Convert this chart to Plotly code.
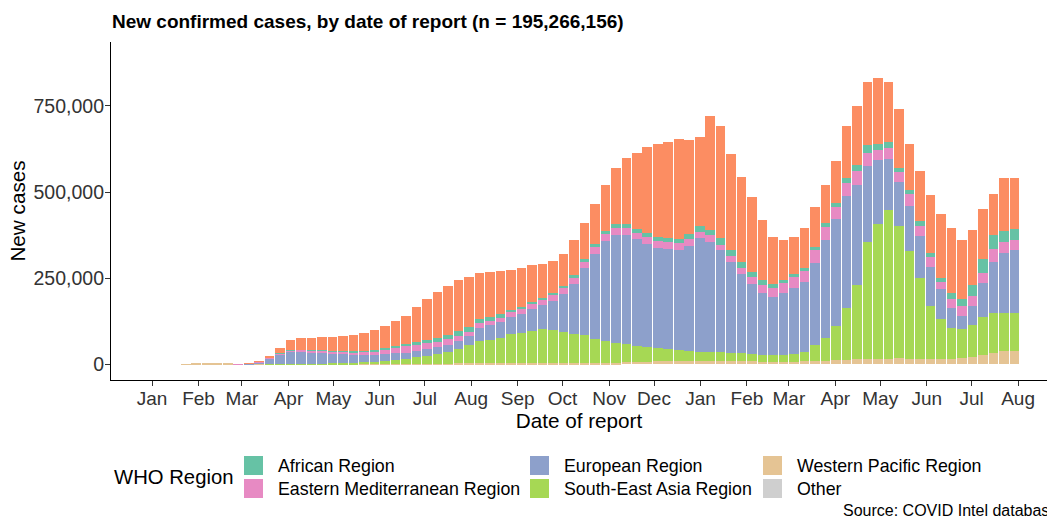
import pandas as pd
import plotly.graph_objects as go

# Weekly periods (Monday starts); values are mean daily new cases per week, in thousands
week_start = pd.date_range("2020-01-20", periods=80, freq="7D")

western_pacific = [0.8, 3.0, 3.2, 4.5, 1.5, 0.6, 0.4, 0.3, 0.5, 0.8,
                   1.0, 1.0, 0.9, 0.7, 0.5, 0.5, 0.5, 0.6, 0.7, 0.8,
                   0.9, 1.2, 1.5, 1.8, 2.2, 2.6, 3.2, 3.6, 3.8, 4.0,
                   4.0, 3.8, 3.6, 3.5, 3.5, 3.5, 3.7, 4.0, 4.2, 4.5,
                   5.0, 5.5, 6.5, 7.5, 8.5, 9.0, 9.5, 10.0, 10.5, 10.0,
                   11.0, 11.5, 11.0, 10.0, 9.0, 8.0, 7.5, 8.0, 8.5, 9.5,
                   10.5, 11.5, 12.5, 13.5, 15.0, 16.0, 16.5, 17.0, 17.5, 17.0,
                   16.0, 15.0, 15.0, 16.0, 18.0, 22.0, 27.0, 33.0, 38.0, 40.0]

south_east_asia = [0, 0, 0, 0, 0, 0, 0, 0, 0.1, 0.3,
                   0.6, 1.0, 1.5, 2.0, 2.5, 3.5, 4.5, 6.0, 7.5, 9.5,
                   12, 15, 19, 23, 28, 34, 42, 52, 65, 68,
                   74, 84, 88, 95, 100, 96, 90, 85, 80, 70,
                   62, 56, 52, 47, 42, 38, 35, 31, 28, 26,
                   25, 24, 23, 22, 22, 20, 19, 19, 22, 26,
                   45, 65, 100, 150, 215, 340, 390, 430, 383, 313,
                   234, 155, 118, 89, 85, 93, 110, 115, 110, 110]

european = [0, 0, 0, 0, 0, 0.3, 1.5, 6, 17, 28,
            36, 36, 33, 31, 28, 25, 22, 20, 18, 19,
            19, 18, 19, 19.5, 20, 21, 23, 26, 38, 42,
            45, 50, 56, 63, 68, 85, 110, 145, 195, 245,
            290, 315, 318, 308, 300, 292, 290, 290, 305, 330,
            320, 296, 262, 230, 203, 180, 170, 180, 192, 205,
            240, 285, 308, 325, 291, 220, 185, 150, 128, 130,
            122, 112, 85, 60, 38, 55, 98, 150, 175, 182]

eastern_mediterranean = [0, 0, 0, 0, 0, 0.2, 0.8, 1.2, 1.5, 3,
                         3.5, 4, 5, 6, 6.5, 8, 9, 10, 12, 14,
                         16, 18, 18, 18, 16, 15, 15, 14, 14, 13,
                         13, 13, 13, 14, 15, 16, 17, 18, 19, 20,
                         21, 20, 20, 20, 19, 19, 20, 20, 19, 19,
                         18, 16, 18, 19, 20, 22, 25, 28, 30, 30,
                         35, 38, 35, 38, 40, 38, 30, 32, 30, 35,
                         30, 30, 22, 25, 28, 28, 30, 38, 32, 30]

african = [0, 0, 0, 0, 0, 0, 0, 0, 0.1, 0.2,
           0.3, 0.5, 0.8, 1.0, 1.2, 1.5, 2.0, 2.5, 3.0, 4.0,
           5, 6, 8, 9, 11, 13, 14, 13, 11, 10,
           9, 8, 7, 7, 7, 7, 7, 7, 8, 9,
           9, 10, 11, 11, 11, 12, 13, 14, 15, 16,
           17, 18, 18, 16, 15, 14, 12, 11, 10, 9,
           9, 10, 12, 15, 18, 22, 18, 15, 12, 12,
           14, 12, 12, 18, 22, 32, 40, 38, 32, 30]

americas = [0, 0, 0, 0, 0, 0, 0.1, 0.5, 3, 15,
            30, 33, 36, 39, 41, 44, 48, 53, 59, 65,
            72, 82, 100, 118, 133, 142, 148, 146, 133, 131,
            127, 116, 112, 105, 98, 92, 92, 101, 104, 116,
            133, 163, 192, 221, 250, 270, 277, 290, 272, 259,
            329, 325, 278, 248, 216, 176, 137, 114, 108, 116,
            116, 111, 123, 149, 171, 184, 190, 176, 170, 133,
            144, 166, 183, 187, 169, 160, 145, 121, 153, 148]

other = [0, 0, 0, 0.1, 0.4, 0.1, 0.05, 0, 0, 0] + [0] * 70

month_ticks = pd.date_range("2020-01-01", "2021-08-01", freq="MS")
month_labels = [d.strftime("%b") for d in month_ticks]
y_ticks = [0, 250000, 500000, 750000]
y_labels = [f"{v:,}" for v in y_ticks]

# bottom-to-top stacking order
series = [
    ("Other", other, "#CFCFCF"),
    ("Western Pacific Region", western_pacific, "#E5C494"),
    ("South-East Asia Region", south_east_asia, "#A6D854"),
    ("European Region", european, "#8DA0CB"),
    ("Eastern Mediterranean Region", eastern_mediterranean, "#E78AC3"),
    ("African Region", african, "#66C2A5"),
    ("Region of the Americas", americas, "#FC8D62"),
]
colors = {n: c for n, _, c in series}

W, H = 1047, 523
L, R, T = 111, 0, 42
B = H - 380
PW, PH = W - L - R, H - T - B


def px(x):
    return (x - L) / PW


def py(y):
    return (H - B - y) / PH


FONT = "Liberation Sans, Arial, Helvetica, sans-serif"

fig = go.Figure()
centers = week_start + pd.Timedelta(hours=84)
bar_w = 6.4 * 24 * 3600 * 1000
for name, vals, color in series:
    fig.add_trace(go.Bar(
        x=centers, y=[v * 1000 for v in vals], width=bar_w, name=name,
        marker=dict(color=color, line=dict(width=0)), showlegend=False))

# legend (drawn manually to mimic ggplot's 3-column key layout)
legend_cols = [
    (244, 276, ["African Region", "Eastern Mediterranean Region"]),
    (530, 562, ["European Region", "South-East Asia Region"]),
    (763, 795, ["Western Pacific Region", "Other"]),
]
row_y = [465.5, 488.5]
shapes = []
annotations = []
for kx, tx, names in legend_cols:
    for r, nm in enumerate(names):
        cy = row_y[r]
        shapes.append(dict(type="rect", xref="paper", yref="paper",
                           x0=px(kx), x1=px(kx + 19), y0=py(cy + 9.5), y1=py(cy - 9.5),
                           fillcolor=colors[nm], line=dict(width=0), layer="above"))
        annotations.append(dict(text=nm, xref="paper", yref="paper", x=px(tx), y=py(cy),
                                xanchor="left", yanchor="middle", showarrow=False,
                                font=dict(family=FONT, size=17.8, color="black")))
annotations.append(dict(text="WHO Region", xref="paper", yref="paper", x=px(112), y=py(477),
                        xanchor="left", yanchor="middle", showarrow=False,
                        font=dict(family=FONT, size=20.3, color="black")))
annotations.append(dict(text="Source: COVID Intel database", xref="paper", yref="paper",
                        x=px(841), y=py(510), xanchor="left", yanchor="middle", showarrow=False,
                        font=dict(family=FONT, size=16, color="black")))

fig.update_layout(
    width=W, height=H, autosize=False,
    margin=dict(l=L, r=R, t=T, b=B),
    barmode="stack", bargap=0,
    paper_bgcolor="white", plot_bgcolor="white",
    font=dict(family=FONT, color="black"),
    title=dict(text="<b>New confirmed cases, by date of report (n = 195,266,156)</b>",
               x=112 / W, xanchor="left", y=1 - 21 / H, yanchor="middle",
               font=dict(family=FONT, size=19, color="black")),
    xaxis=dict(type="date", range=["2019-12-04 14:00", "2021-08-20 07:00"],
               tickvals=month_ticks, ticktext=month_labels,
               showline=True, linecolor="black", linewidth=1.2,
               ticks="outside", ticklen=5, tickcolor="#333333", tickwidth=1.1,
               tickfont=dict(family=FONT, size=19, color="#333333"),
               ticklabelstandoff=-4,
               showgrid=False, zeroline=False,
               title=dict(text="Date of report", standoff=2,
                          font=dict(family=FONT, size=20.7, color="black"))),
    yaxis=dict(range=[-45000, 935000], tickvals=y_ticks, ticktext=y_labels,
               showline=True, linecolor="black", linewidth=1.2,
               ticks="outside", ticklen=5, tickcolor="#333333", tickwidth=1.1,
               tickfont=dict(family=FONT, size=19.5, color="#333333"),
               ticklabelstandoff=-3,
               showgrid=False, zeroline=False,
               title=dict(text="New cases", standoff=2,
                          font=dict(family=FONT, size=20.7, color="black"))),
    shapes=shapes, annotations=annotations,
)

# remove the browser's default 8px body margin so the figure fills the window exactly
fig.write_html("out.html",
               config={"displayModeBar": False},
               post_script="document.body.style.margin='0px';document.body.style.overflow='hidden';")
